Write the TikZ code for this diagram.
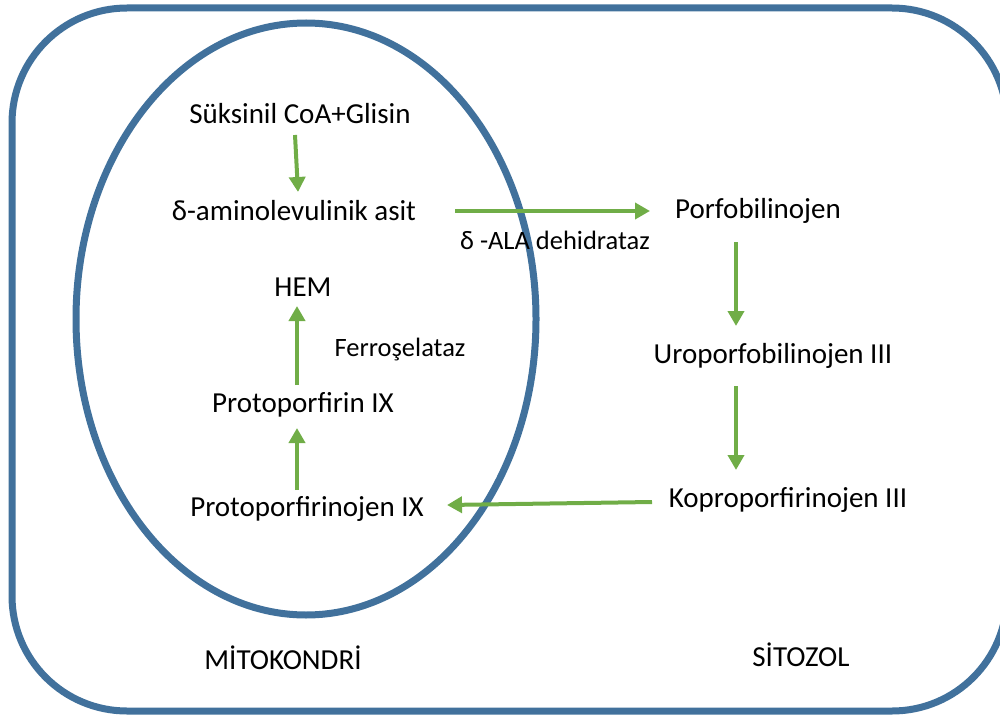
\documentclass[tikz,border=0pt]{standalone}
\usepackage{fontspec}
\setmainfont{Carlito}
\usetikzlibrary{arrows.meta}
\definecolor{frameblue}{HTML}{41719C}
\definecolor{arrowgreen}{HTML}{70AD47}
\begin{document}
\begin{tikzpicture}[x=1pt,y=-1pt,
  lbl/.style={inner sep=0pt,font=\fontsize{29}{34}\selectfont},
  small/.style={inner sep=0pt,font=\fontsize{26.5}{31}\selectfont},
  flow/.style={draw=arrowgreen,line width=4pt,-{Triangle[width=16pt,length=15pt]}},
  wall/.style={draw=frameblue,line width=7pt}]
\useasboundingbox (0,0) rectangle (1000,719);
\begin{scope}
\clip (0,0) rectangle (1000,719);
\draw[wall,rounded corners=115pt] (12,8) rectangle (1007,711);
\end{scope}
\draw[wall] (306,319) ellipse[x radius=230, y radius=296];
\node[lbl] (suk) at (300,114) {Süksinil CoA+Glisin};
\node[lbl] (ala) at (294,211) {δ-aminolevulinik asit};
\node[lbl] (hem) at (303,287) {HEM};
\node[small] (fer) at (400,350) {Ferroşelataz};
\node[lbl] (pro) at (303,405) {Protoporfirin IX};
\node[lbl] (proj) at (307,509) {Protoporfirinojen IX};
\node[lbl] (mit) at (283,658) {MİTOKONDRİ};
\node[small] (dehy) at (555,240) {δ -ALA dehidrataz};
\node[lbl] (por) at (758,211) {Porfobilinojen};
\node[lbl] (uro) at (773,356) {Uroporfobilinojen III};
\node[lbl] (kop) at (788,500) {Koproporfirinojen III};
\node[lbl] (sit) at (801,655) {SİTOZOL};
\coordinate (a1s) at (295,135); \coordinate (a1e) at (298,192);
\draw[flow] (a1s) -- (a1e);
\coordinate (a2s) at (455,211); \coordinate (a2e) at (650,211);
\draw[flow] (a2s) -- (a2e);
\coordinate (a3s) at (736,242); \coordinate (a3e) at (736,326);
\draw[flow] (a3s) -- (a3e);
\coordinate (a4s) at (736,386); \coordinate (a4e) at (736,470);
\draw[flow] (a4s) -- (a4e);
\coordinate (a5s) at (652,502); \coordinate (a5e) at (447,505);
\draw[flow] (a5s) -- (a5e);
\coordinate (a6s) at (297,490); \coordinate (a6e) at (297,428);
\draw[flow] (a6s) -- (a6e);
\coordinate (a7s) at (297,385); \coordinate (a7e) at (297,306);
\draw[flow] (a7s) -- (a7e);
\end{tikzpicture}
\end{document}
